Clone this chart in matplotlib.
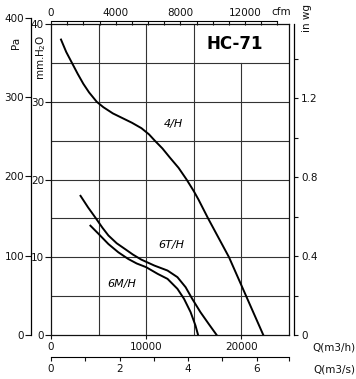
import matplotlib
matplotlib.use("Agg")
import matplotlib.pyplot as plt
import numpy as np

# ---- data (flow in m3/h, pressure in mm H2O) ----
q_4h = [1050, 1600, 2200, 2800, 3400, 4000, 4800, 5500, 6500, 7500, 8500,
        9500, 10300, 10900, 11700, 12500, 13400, 14240, 15000, 15500, 16500,
        17600, 18700, 19600, 20500, 21400, 22300]
p_4h = [38.0, 36.4, 35.0, 33.6, 32.3, 31.2, 30.0, 29.3, 28.5, 27.9, 27.3,
        26.6, 25.8, 25.0, 24.0, 22.8, 21.5, 20.0, 18.5, 17.4, 15.0,
        12.5, 10.0, 7.5, 5.0, 2.5, 0.0]

q_6t = [3100, 3900, 4720, 5400, 6030, 6900, 7760, 8600, 9480, 10860, 12240,
        13280, 14140, 14830, 15690, 16550, 17400]
p_6t = [17.9, 16.4, 15.0, 13.8, 12.8, 11.8, 11.07, 10.35, 9.7, 8.93, 8.29,
        7.44, 6.15, 4.66, 2.95, 1.45, 0.0]

q_6m = [4140, 5000, 6030, 7070, 8100, 9000, 10000, 11210, 12240, 13280, 13970,
        14660, 15170, 15450]
p_6m = [14.06, 13.0, 11.7, 10.64, 9.79, 9.2, 8.72, 7.86, 7.22, 5.94, 4.66,
        2.95, 1.24, 0.0]

curve_labels = ["4/H", "6T/H", "6M/H"]
title = "HC-71"

x_ticks = [0, 10000, 20000]
y_ticks = [0, 10, 20, 30, 40]
pa_ticks = [0, 100, 200, 300, 400]
inwg_ticks = [0, 0.4, 0.8, 1.2]
inwg_minor = [0.2, 0.6, 1.0, 1.4]
cfm_ticks = [0, 4000, 8000, 12000]
cfm_minor = list(range(1000, 14001, 1000))
m3s_ticks = [0, 2, 4, 6]
m3s_minor = [1, 3, 5]

XMAX = 25000
YMAX = 40

W, H = 356, 379
fig = plt.figure(figsize=(W / 100, H / 100), dpi=100)
plt.rcParams['font.family'] = ['DejaVu Sans']
FS = 7.5
col = '#111111'

L, R, T, B = 51, 289, 24, 335
def fx(px):
    return px / W
def fy(py):
    return 1 - py / H

ax = fig.add_axes([fx(L), fy(B), (R - L) / W, (B - T) / H])
ax.set_xlim(0, XMAX)
ax.set_ylim(0, YMAX)
for s in ax.spines.values():
    s.set_linewidth(0.9)
    s.set_color(col)

# grid drawn manually (gap behind the title)
for gx in [5000, 10000, 15000]:
    ax.axvline(gx, color='#333333', lw=0.8, zorder=1)
ax.axvline(20000, ymax=35 / YMAX, color='#333333', lw=0.8, zorder=1)
for gy in [5, 10, 15, 20, 25, 30, 35]:
    ax.axhline(gy, color='#333333', lw=0.8, zorder=1)

ax.plot(q_4h, p_4h, color='black', lw=1.4, zorder=3, solid_joinstyle='round')
ax.plot(q_6t, p_6t, color='black', lw=1.4, zorder=3, solid_joinstyle='round')
ax.plot(q_6m, p_6m, color='black', lw=1.4, zorder=3, solid_joinstyle='round')

lab_style = dict(fontsize=8, style='italic', color='black', ha='center', va='center')
ax.text(12900, 27.1, curve_labels[0], **lab_style)
ax.text(12600, 11.6, curve_labels[1], **lab_style)
ax.text(7400, 6.6, curve_labels[2], **lab_style)
ax.text(19300, 37.4, title, fontsize=12, fontweight='bold', ha='center', va='center')

ax.set_xticks(x_ticks)
ax.set_yticks(y_ticks)
ax.tick_params(axis='x', direction='out', length=3, width=0.8, labelsize=FS, pad=2, colors=col)
ax.tick_params(axis='y', direction='out', length=4, width=0.8, labelsize=FS, pad=1, colors=col)

# Pa axis
pa_h = (B - T) / H * (400 / 9.80665) / YMAX
axp = fig.add_axes([fx(31), fy(B), 1e-4, pa_h])
axp.set_ylim(0, 400)
axp.set_xticks([])
for k in ['top', 'right', 'bottom']:
    axp.spines[k].set_visible(False)
axp.spines['left'].set_linewidth(0.9)
axp.set_yticks(pa_ticks)
axp.tick_params(axis='y', direction='out', length=4, width=0.8, labelsize=FS, pad=1, colors=col)
axp.patch.set_visible(False)

# in wg axis
axw = fig.add_axes([fx(294), fy(B), 1e-4, (B - T) / H])
axw.set_ylim(0, YMAX / 25.4)
axw.set_xticks([])
for k in ['top', 'left', 'bottom']:
    axw.spines[k].set_visible(False)
axw.spines['right'].set_linewidth(0.9)
axw.yaxis.tick_right()
axw.set_yticks(inwg_ticks)
axw.set_yticklabels(['0', '0.4', '0.8', '1.2'])
axw.set_yticks(inwg_minor, minor=True)
axw.tick_params(axis='y', which='both', direction='out', length=3, width=0.8, labelsize=FS, pad=2, colors=col)
axw.patch.set_visible(False)

# cfm axis (top)
axc = fig.add_axes([fx(L), fy(21), (R - L) / W, 1e-4])
axc.set_xlim(0, XMAX / 1.699)
axc.set_yticks([])
for k in ['bottom', 'left', 'right']:
    axc.spines[k].set_visible(False)
axc.spines['top'].set_bounds(0, 14000)
axc.spines['top'].set_linewidth(0.8)
axc.xaxis.tick_top()
axc.set_xticks(cfm_ticks)
axc.set_xticks(cfm_minor, minor=True)
axc.tick_params(axis='x', which='both', direction='in', length=3, width=0.8, labelsize=FS, pad=2, colors=col)
axc.patch.set_visible(False)
fig.text(fx(281), fy(12), "cfm", fontsize=FS, ha='center', va='center', color=col)

# m3/s axis (bottom)
axs = fig.add_axes([fx(L), fy(357), (R - L) / W, 1e-4])
axs.set_xlim(0, XMAX / 3600)
axs.set_yticks([])
for k in ['top', 'left', 'right']:
    axs.spines[k].set_visible(False)
axs.spines['bottom'].set_linewidth(0.8)
axs.set_xticks(m3s_ticks)
axs.set_xticks(m3s_minor + [XMAX / 3600], minor=True)
axs.tick_params(axis='x', which='both', direction='out', length=3, width=0.8, labelsize=FS, pad=2, colors=col)
axs.patch.set_visible(False)

fig.text(fx(16), fy(43), "Pa", fontsize=FS, rotation=90, ha='center', va='center', color=col)
fig.text(fx(41), fy(57), "mm.H$_2$O", fontsize=FS, rotation=90, ha='center', va='center', color=col)
fig.text(fx(307), fy(18), "in wg", fontsize=FS, rotation=90, ha='center', va='center', color=col)
fig.text(fx(334), fy(348), "Q(m3/h)", fontsize=FS, ha='center', va='center', color=col)
fig.text(fx(334), fy(369), "Q(m3/s)", fontsize=FS, ha='center', va='center', color=col)

fig.savefig("out.png", dpi=100)
